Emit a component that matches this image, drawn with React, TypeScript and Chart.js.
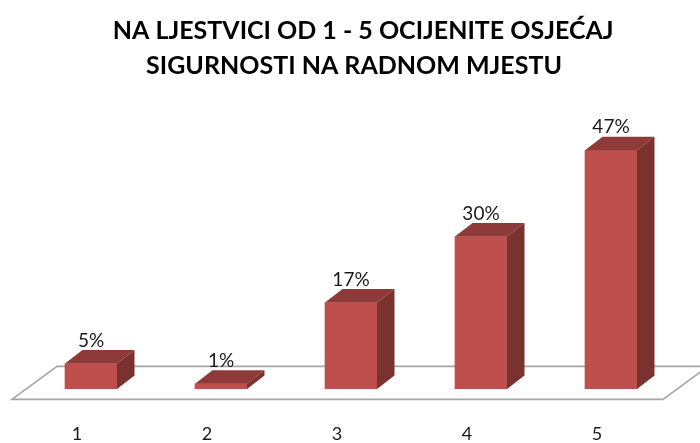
import React, { useEffect, useRef } from "react";
import { Chart, registerables } from "chart.js";

Chart.register(...registerables);

const categories = ["1", "2", "3", "4", "5"];
const shares = [5, 1, 17, 30, 47];
const titleLines = ["    NA LJESTVICI OD 1 - 5 OCIJENITE OSJEĆAJ", " SIGURNOSTI NA RADNOM MJESTU"];

const FRONT = "#BE4F4C";
const TOP = "#8E3A38";
const SIDE = "#7A322F";
const FLOOR = "#A6A6A6";
const FONT = "Lato, Carlito, 'Open Sans', sans-serif";

const box3d = {
  id: "box3d",
  beforeDatasetsDraw(chart: any) {
    const { ctx, chartArea, scales } = chart;
    const base = scales.y.getPixelForValue(0);
    const frontY = base + 10.5;
    const backY = frontY - 33;
    const l = chartArea.left - 14;
    const r = chartArea.right - 13;
    ctx.save();
    ctx.strokeStyle = FLOOR;
    ctx.lineWidth = 1.6;
    ctx.lineJoin = "miter";
    ctx.beginPath();
    ctx.moveTo(l + 45, backY);
    ctx.lineTo(r + 45, backY);
    ctx.lineTo(r, frontY);
    ctx.lineTo(l, frontY);
    ctx.closePath();
    ctx.stroke();
    ctx.restore();
  },
  afterDatasetsDraw(chart: any) {
    const { ctx } = chart;
    const dx = 17.5;
    const dy = -13.5;
    const meta = chart.getDatasetMeta(0);
    ctx.save();
    meta.data.forEach((bar: any, i: number) => {
      const half = bar.width / 2;
      const x0 = bar.x - half;
      const x1 = bar.x + half;
      const yt = bar.y;
      const yb = bar.base;
      ctx.fillStyle = TOP;
      ctx.beginPath();
      ctx.moveTo(x0, yt);
      ctx.lineTo(x0 + dx, yt + dy);
      ctx.lineTo(x1 + dx, yt + dy);
      ctx.lineTo(x1, yt);
      ctx.closePath();
      ctx.fill();
      ctx.fillStyle = SIDE;
      ctx.beginPath();
      ctx.moveTo(x1, yt);
      ctx.lineTo(x1 + dx, yt + dy);
      ctx.lineTo(x1 + dx, yb + dy);
      ctx.lineTo(x1, yb);
      ctx.closePath();
      ctx.fill();
      ctx.fillStyle = "#1a1a1a";
      ctx.font = `19px ${FONT}`;
      ctx.textAlign = "center";
      ctx.textBaseline = "middle";
      ctx.fillText(`${shares[i]}%`, bar.x, yt - 23);
    });
    ctx.restore();
  },
};

export default function App() {
  const ref = useRef<HTMLCanvasElement>(null);
  useEffect(() => {
    const chart = new Chart(ref.current!, {
      type: "bar",
      data: {
        labels: categories,
        datasets: [{ data: shares, backgroundColor: FRONT, barThickness: 52, borderWidth: 0 }],
      },
      options: {
        animation: false,
        responsive: false,
        layout: { padding: { left: 26, right: 24, top: 0, bottom: 0 } },
        plugins: {
          legend: { display: false },
          tooltip: { enabled: false },
          title: {
            display: true,
            text: titleLines,
            color: "#000000",
            font: { family: FONT, size: 25, weight: "bold", lineHeight: 1.4 },
            padding: { top: 13, bottom: 52 },
          },
        },
        scales: {
          x: {
            grid: { display: true, drawOnChartArea: false, drawTicks: true, tickLength: 36.5, tickColor: "rgba(0,0,0,0)" },
            border: { display: false },
            ticks: {
              color: "#1a1a1a",
              font: { family: FONT, size: 18 },
              labelOffset: -14,
              padding: -2,
              maxRotation: 0,
            },
          },
          y: { display: false, min: 0, max: 50 },
        },
      },
      plugins: [box3d],
    } as any);
    return () => chart.destroy();
  }, []);
  return (
    <div style={{ position: "fixed", left: 0, top: 0, width: 700, height: 443, background: "#fff" }}>
      <canvas ref={ref} width={700} height={443} style={{ display: "block" }} />
    </div>
  );
}
